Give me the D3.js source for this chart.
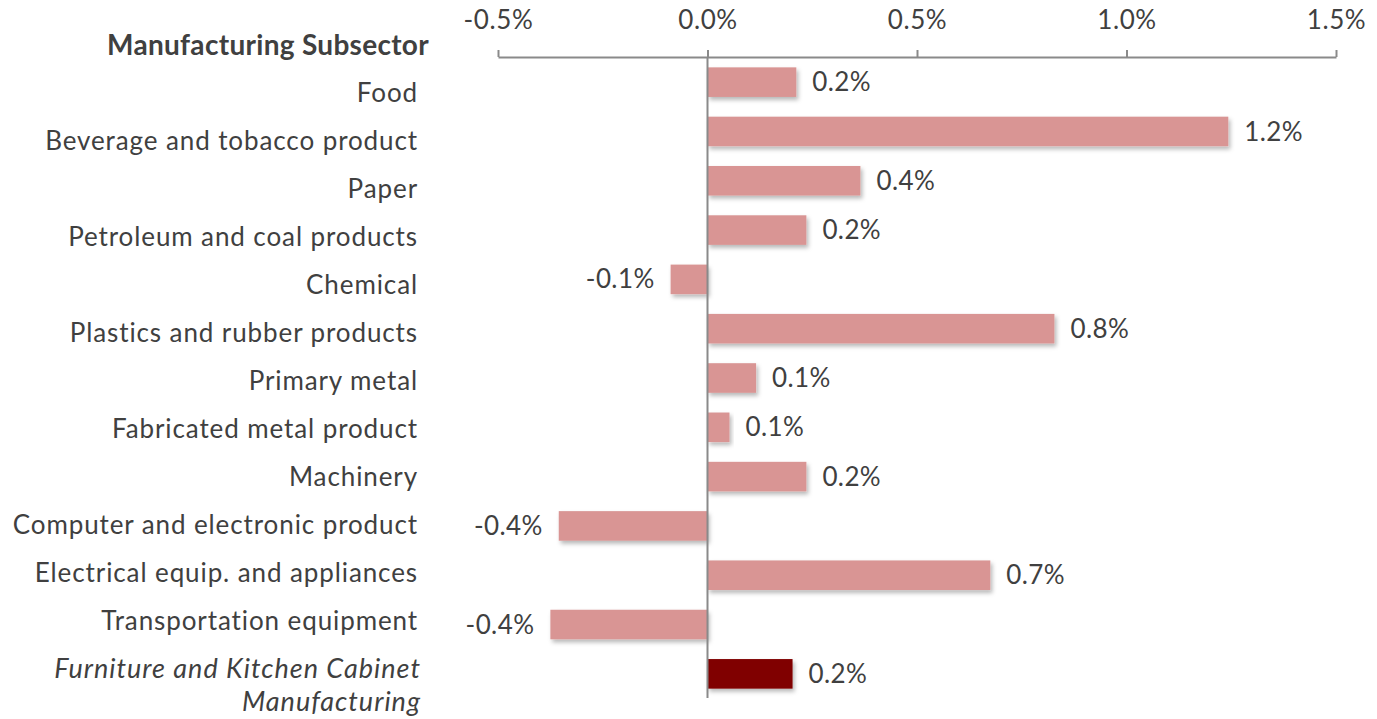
<!DOCTYPE html>
<html>
<head>
<meta charset="utf-8">
<script src="https://cdn.jsdelivr.net/npm/d3@7"></script>
<style>
  html, body { margin: 0; padding: 0; background: #fff; }
  svg { display: block; font-family: Lato, "Open Sans", sans-serif; }
</style>
</head>
<body>
<svg id="chart" width="1377" height="719"></svg>
<script>
// Manufacturing subsectors, top to bottom
const categories = [
  "Food",
  "Beverage and tobacco product",
  "Paper",
  "Petroleum and coal products",
  "Chemical",
  "Plastics and rubber products",
  "Primary metal",
  "Fabricated metal product",
  "Machinery",
  "Computer and electronic product",
  "Electrical equip. and appliances",
  "Transportation equipment",
  "Furniture and Kitchen Cabinet Manufacturing"
];
// Change, in percent
const values = [0.212, 1.243, 0.365, 0.236, -0.088, 0.828, 0.116, 0.0525, 0.236, -0.355, 0.675, -0.375, 0.203];
const tickValues = [-0.5, 0, 0.5, 1.0, 1.5];
const highlighted = "Furniture and Kitchen Cabinet Manufacturing";
const highlightedLines = ["Furniture and Kitchen Cabinet", "Manufacturing"];
const titleText = "Manufacturing Subsector";

const data = categories.map((c, i) => ({ name: c, value: values[i] }));
const fmt = v => v.toFixed(1) + "%";

const svg = d3.select("#chart");
const textColor = "#404040";
const axisColor = "#8a8a8a";

const defs = svg.append("defs");
const shadow = defs.append("filter").attr("id", "barShadow")
  .attr("x", "-10%").attr("y", "-30%").attr("width", "130%").attr("height", "170%");
shadow.append("feDropShadow")
  .attr("dx", 2).attr("dy", 3).attr("stdDeviation", 2)
  .attr("flood-color", "#000").attr("flood-opacity", 0.28);

const x = d3.scaleLinear().domain([-0.5, 1.5]).range([498, 1336]);
const y = d3.scaleBand().domain(categories).range([57.5, 698.5])
  .paddingInner(0.4).paddingOuter(0.2);
const labelY = d3.scalePoint().domain(categories).range([93, 669]);

// Top axis
const axis = d3.axisTop(x).tickValues(tickValues)
  .tickFormat(fmt).tickSize(7).tickSizeOuter(0).tickPadding(21);
const gAxis = svg.append("g").attr("transform", "translate(0,57)").call(axis);
gAxis.select(".domain").attr("stroke", axisColor).attr("stroke-width", 2);
gAxis.selectAll(".tick line").attr("stroke", axisColor).attr("stroke-width", 2);
gAxis.selectAll(".tick text").attr("fill", textColor)
  .style("font-size", "26px").style("letter-spacing", "0.6px")
  .style("font-family", "Lato, sans-serif");

// Bars
svg.append("g").selectAll("rect").data(data).join("rect")
  .attr("x", d => x(Math.min(0, d.value)))
  .attr("width", d => Math.abs(x(d.value) - x(0)))
  .attr("y", d => y(d.name))
  .attr("height", y.bandwidth())
  .attr("fill", d => d.name === highlighted ? "#800000" : "#d99594")
  .attr("filter", "url(#barShadow)");

// Zero line
svg.append("line")
  .attr("x1", x(0)).attr("x2", x(0))
  .attr("y1", 57).attr("y2", 698)
  .attr("stroke", axisColor).attr("stroke-width", 2);

// Value labels
svg.append("g").selectAll("text").data(data).join("text")
  .attr("x", d => d.value >= 0 ? x(d.value) + 16 : x(d.value) - 16)
  .attr("y", d => y(d.name) + y.bandwidth() / 2)
  .attr("dy", "0.35em")
  .attr("text-anchor", d => d.value >= 0 ? "start" : "end")
  .attr("fill", textColor)
  .style("font-size", "26px").style("letter-spacing", "0.4px")
  .text(d => fmt(d.value));

// Category labels
const gLab = svg.append("g");
data.forEach(d => {
  if (d.name === highlighted) {
    const t = gLab.append("text")
      .attr("text-anchor", "end").attr("fill", textColor)
      .style("font-size", "27px").style("font-style", "italic")
      .style("letter-spacing", "1px");
    highlightedLines.forEach((line, i) => {
      t.append("tspan").attr("x", 421).attr("y", labelY(d.name) + i * 33)
        .attr("dy", "0.35em").text(line);
    });
  } else {
    gLab.append("text")
      .attr("x", 418).attr("y", labelY(d.name)).attr("dy", "0.35em")
      .attr("text-anchor", "end").attr("fill", textColor)
      .style("font-size", "26px").style("letter-spacing", "0.9px")
      .text(d.name);
  }
});

// Title
svg.append("text")
  .attr("x", 429).attr("y", 45).attr("dy", "0.35em")
  .attr("text-anchor", "end").attr("fill", textColor)
  .style("font-size", "28px").style("font-weight", "bold").style("letter-spacing", "0.3px")
  .text(titleText);
</script>
</body>
</html>
